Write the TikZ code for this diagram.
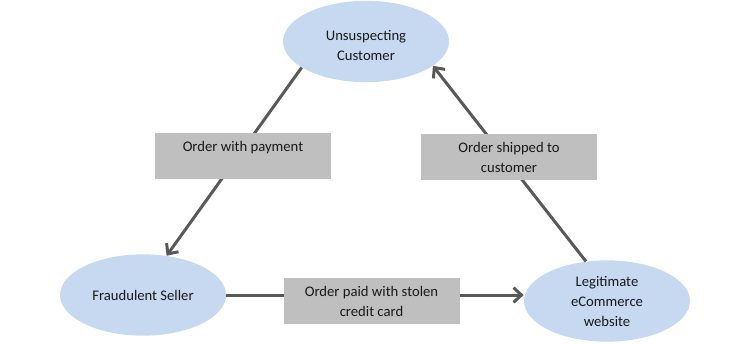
\documentclass[tikz,border=0pt]{standalone}
\usepackage{fontspec}
\setmainfont{Carlito}
\usetikzlibrary{shapes.geometric,arrows.meta}

\definecolor{ovalblue}{HTML}{C6D9F1}
\definecolor{boxgray}{HTML}{BFBFBF}
\definecolor{linegray}{HTML}{595959}

\tikzset{
	party/.style={ellipse, fill=ovalblue, inner sep=0pt, minimum width=124.5pt,
		minimum height=61pt, align=center, text=black!90, font=\fontsize{11}{15}\selectfont},
	flowbox/.style={rectangle, fill=boxgray, inner sep=0pt, minimum width=132pt,
		minimum height=34pt, align=center, text=black!90, font=\fontsize{11}{15}\selectfont},
	flow/.style={draw=linegray, line width=2.25pt, -{Straight Barb[length=6pt,width=11pt]}}
}

\begin{document}
\begin{tikzpicture}[x=0.75pt, y=-0.75pt]
	
	\useasboundingbox (0,0) rectangle (750,343);

% 1. Ba bên tham gia
\node[party] (cust) at (366,41.5) {\rule{0pt}{13pt}Unsuspecting\\Customer};
\node[party] (seller) at (143,295) {Fraudulent Seller};
\node[party] (legit) at (607,301) {Legitimate\\eCommerce\\website};

% 2. Các mũi tên
\draw[flow] (cust.202) -- (seller.59);
\draw[flow] (seller.east) -- (legit.west |- seller.east);
\draw[flow] (legit.118) -- (cust.340);

% 3. Các hộp nhãn (vẽ sau, che lên đường)
\node[flowbox] (pay) at (243,156) {Order with payment\\\mbox{}};
\node[flowbox] (ship) at (509,157) {Order shipped to\\customer};
\node[flowbox, minimum height=35pt] (stolen) at (371.5,301) {Order paid with stolen\\credit card};

	\end{tikzpicture}
\end{document}
